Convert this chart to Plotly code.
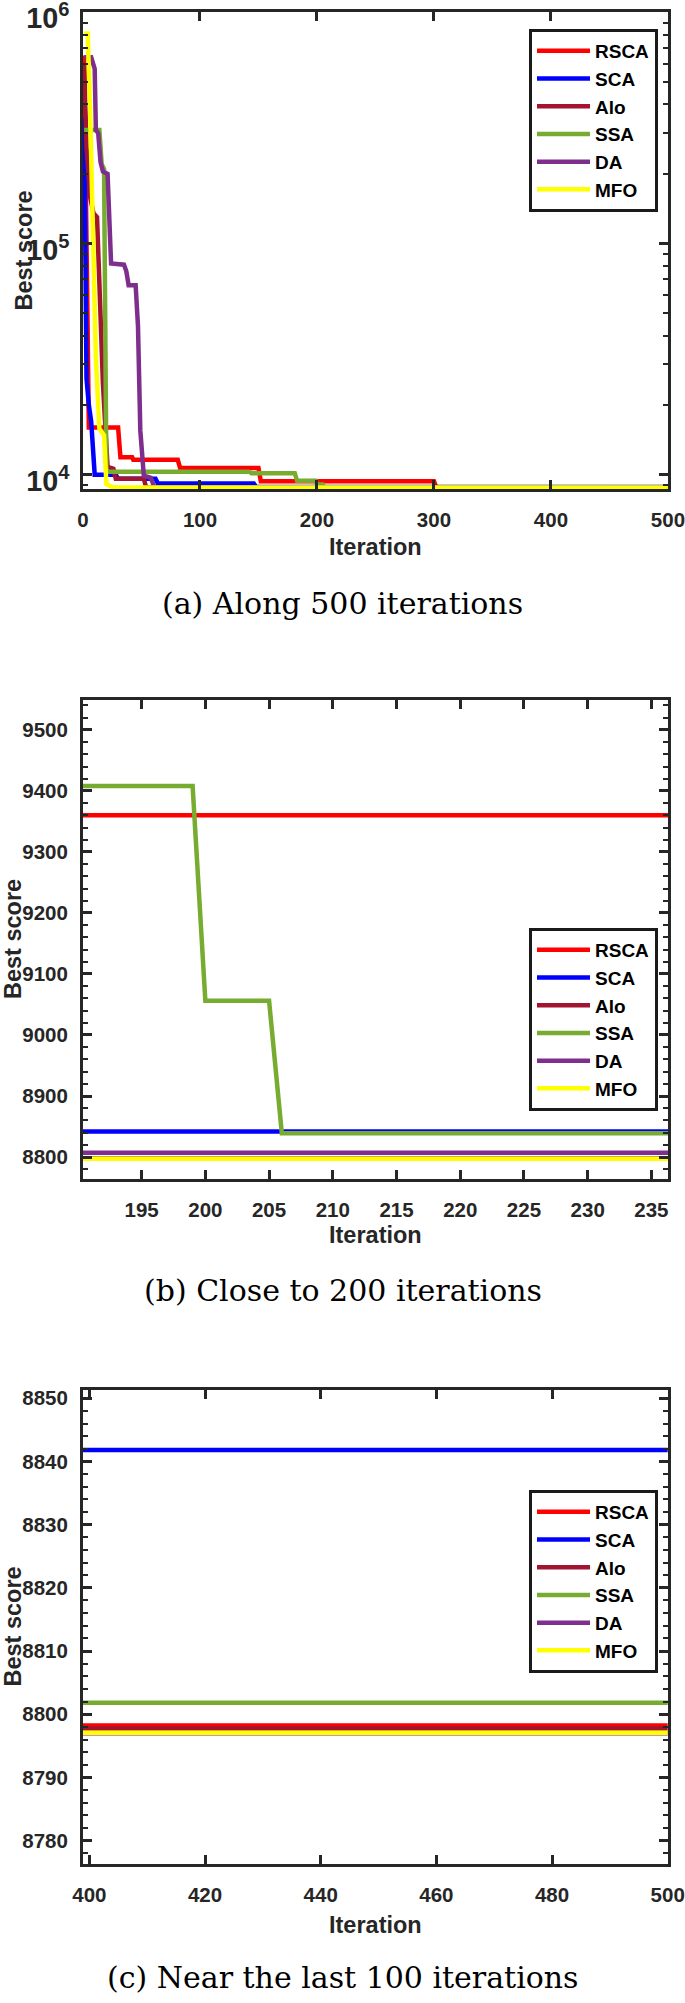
import plotly.graph_objects as go

# ---------------- data (keypoints of convergence curves) -------------
names = ["RSCA", "SCA", "Alo", "SSA", "DA", "MFO"]
colors = ["#FF0000", "#0000FF", "#A2142F", "#77AC30", "#7E2F8E", "#FFFF00"]

rsca_it = [1, 2, 3, 4, 5, 30, 32, 42, 43, 81, 83, 150, 152, 300, 302, 500]
rsca_val = [6.5e5, 2.2e5, 8.0e4, 3.0e4, 16000, 16000, 11900, 11900, 11600, 11600,
            10700, 10700, 9360, 9360, 8798.2, 8798.2]

sca_it = [1, 2, 3, 5, 7, 10, 28, 30, 62, 64, 146, 148, 500]
sca_val = [3.5e5, 6.0e4, 2.6e4, 2.0e4, 1.7e4, 10000, 10000, 9600, 9600, 9150, 9150,
           8841.8, 8841.8]

alo_it = [1, 3, 6, 9, 12, 14, 17, 21, 26, 28, 52, 54, 500]
alo_val = [6.0e5, 2.6e5, 1.6e5, 1.35e5, 1.3e5, 6.0e4, 2.5e4, 10800, 10600, 9600, 9600,
           8797.75, 8797.75]

ssa_it = [1, 14, 16, 18, 20, 142, 144, 181, 183, 199, 200, 205, 206, 260, 262, 500]
ssa_val = [3.1e5, 3.1e5, 2.2e5, 2.1e5, 10300, 10300, 10150, 10150, 9408, 9408, 9056,
           9056, 8839, 8839, 8801.8, 8801.8]

da_it = [1, 7, 10, 11, 13, 15, 17, 21, 24, 35, 37, 39, 45, 47, 49, 52, 58, 61, 320, 322, 500]
da_val = [6.4e5, 6.4e5, 5.7e5, 3.1e5, 3.0e5, 2.25e5, 2.05e5, 2.0e5, 8.2e4, 8.1e4, 7.6e4,
          6.6e4, 6.6e4, 4.4e4, 1.55e4, 9900, 9700, 8807, 8807, 8797.0, 8797.0]

mfo_it = [1, 4, 6, 9, 11, 14, 18, 20, 25, 30, 500]
mfo_val = [8.1e5, 8.1e5, 3.9e5, 9.4e4, 3.2e4, 15800, 14800, 9100, 8850, 8797.05, 8797.05]

series_it = [rsca_it, sca_it, alo_it, ssa_it, da_it, mfo_it]
series_val = [rsca_val, sca_val, alo_val, ssa_val, da_val, mfo_val]

captions = ["(a) Along 500 iterations", "(b) Close to 200 iterations",
            "(c) Near the last 100 iterations"]

# ---------------- layout geometry ----------------
W, H = 685, 2003
INK = "#262626"
TICKFONT = dict(family="Liberation Sans, Arial, sans-serif", size=20.5, color=INK, weight="bold")
LOGTICKFONT = dict(family="Liberation Sans, Arial, sans-serif", size=23, color=INK, weight="bold")
LABFONT = dict(family="Liberation Sans, Arial, sans-serif", size=23.5, color=INK, weight="bold")
CAPFONT = dict(family="DejaVu Serif, serif", size=30, color="#000000")

# page-pixel geometry (measured on the reference)
x0, x1 = 83, 668
panels = [  # (top px, bottom px)
    (12, 489),
    (700, 1179),
    (1390, 1864),
]

def px(p):
    return p / W

def py(p):
    return 1 - p / H

fig = go.Figure()
for k in range(3):
    xa = "x" if k == 0 else f"x{k+1}"
    ya = "y" if k == 0 else f"y{k+1}"
    leg = "legend" if k == 0 else f"legend{k+1}"
    for name, col, it, val in zip(names, colors, series_it, series_val):
        fig.add_trace(go.Scatter(
            x=it, y=val, mode="lines", name=name,
            line=dict(color=col, width=4.5),
            xaxis=xa, yaxis=ya, legend=leg, legendgroup=f"{name}{k}",
            showlegend=True, hoverinfo="skip",
        ))

axis_common = dict(
    showline=True, linewidth=3, linecolor=INK, mirror="ticks",
    ticks="inside", ticklen=9, tickwidth=3, tickcolor=INK,
    showgrid=False, zeroline=False, tickfont=TICKFONT, automargin=False,
    ticklabeloverflow="allow",
)

xdom = [px(x0), px(x1)]
lay = {}
# panel (a)
lay["xaxis"] = dict(axis_common, domain=xdom, range=[0, 500.05], dtick=100, tick0=0,
                    anchor="y", ticklabelstandoff=10)
lay["yaxis"] = dict(axis_common, domain=[py(panels[0][1]), py(panels[0][0])],
                    type="log", range=[3.938, 6.0015], dtick=1, exponentformat="power",
                    anchor="x", ticklabelstandoff=6, ticklabelshift=6,
                    tickfont=LOGTICKFONT,
                    minor=dict(ticks="inside", ticklen=5, tickwidth=2, tickcolor=INK,
                               dtick="D1", showgrid=False))
# panel (b)
lay["xaxis2"] = dict(axis_common, domain=xdom, range=[190.4, 236.3], dtick=5, tick0=195,
                     anchor="y2", ticklabelstandoff=10)
lay["yaxis2"] = dict(axis_common, domain=[py(panels[1][1]), py(panels[1][0])],
                     range=[8764, 9549], dtick=100, tick0=8800, anchor="x2",
                     ticklabelstandoff=8,
                     minor=dict(ticks="inside", ticklen=5, tickwidth=2, tickcolor=INK,
                                dtick=20, showgrid=False))
# panel (c)
lay["xaxis3"] = dict(axis_common, domain=xdom, range=[398.9, 500.05], dtick=20, tick0=400,
                     anchor="y3", ticklabelstandoff=10)
lay["yaxis3"] = dict(axis_common, domain=[py(panels[2][1]), py(panels[2][0])],
                     range=[8776.3, 8851.3], dtick=10, tick0=8780, anchor="x3",
                     ticklabelstandoff=8,
                     minor=dict(ticks="inside", ticklen=5, tickwidth=2, tickcolor=INK,
                                dtick=2, showgrid=False))

legend_common = dict(
    x=px(529), xanchor="left", yanchor="top",
    bgcolor="white", bordercolor="#1a1a1a", borderwidth=3,
    font=dict(family="Liberation Sans, Arial, sans-serif", size=19, color="#000000",
              weight="bold"),
    itemwidth=53, tracegroupgap=0,
)
lay["legend"] = dict(legend_common, y=py(29))
lay["legend2"] = dict(legend_common, y=py(928))
lay["legend3"] = dict(legend_common, y=py(1490))

annotations = []
iter_y = [547, 1235, 1925]
best_x = [23, 12.5, 12.5]
cap_y = [603, 1290, 1977]
for k in range(3):
    top, bot = panels[k]
    annotations.append(dict(text="Iteration", x=px((x0 + x1) / 2), y=py(iter_y[k]),
                            xref="paper", yref="paper", showarrow=False,
                            xanchor="center", yanchor="middle", font=LABFONT))
    annotations.append(dict(text="Best score", x=px(best_x[k]), y=py((top + bot) / 2),
                            xref="paper", yref="paper", showarrow=False, textangle=-90,
                            xanchor="center", yanchor="middle", font=LABFONT))
    annotations.append(dict(text=captions[k], x=px(W / 2), y=py(cap_y[k]),
                            xref="paper", yref="paper", showarrow=False,
                            xanchor="center", yanchor="middle", font=CAPFONT))

fig.update_layout(
    width=W, height=H, autosize=False,
    margin=dict(l=0, r=0, t=0, b=0, autoexpand=False),
    paper_bgcolor="white", plot_bgcolor="white",
    annotations=annotations,
    **lay,
)

# remove the browser's default 8px body margin so the figure fills the page exactly
fig.write_html("out.html", config={"displayModeBar": False},
               post_script="document.body.style.margin='0';")
